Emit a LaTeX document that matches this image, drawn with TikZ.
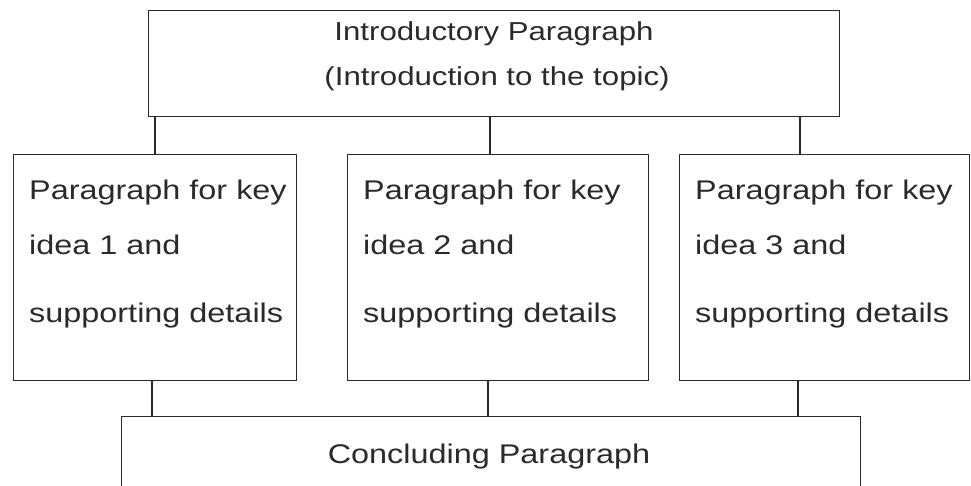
\documentclass[tikz,border=0pt]{standalone}
\usepackage{fontspec}
\setmainfont[FakeStretch=1.2]{Liberation Sans}
\definecolor{ink}{HTML}{2A2A2A}
\begin{document}
\begin{tikzpicture}[x=1pt,y=-1pt,
  box/.style={draw=ink, line width=1.1pt, inner sep=0pt, anchor=north west},
  link/.style={draw=ink, line width=1.1pt},
  txt/.style={inner sep=0pt, text=ink, font=\fontsize{27}{32}\selectfont},
  ttxt/.style={inner sep=0pt, text=ink, font=\fontsize{26}{30}\selectfont, anchor=base},
]
\useasboundingbox (0,0) rectangle (971,485);
\clip (0,0) rectangle (971,485);
% boxes
\node[box, minimum width=691pt, minimum height=106pt] (intro) at (148,10) {};
\node[box, minimum width=283pt, minimum height=226pt] (b1) at (13,154) {};
\node[box, minimum width=301pt, minimum height=226pt] (b2) at (347,154) {};
\node[box, minimum width=290pt, minimum height=226pt] (b3) at (679,154) {};
\node[box, minimum width=739pt, minimum height=100pt] (con) at (121,416) {};
% texts
\node[ttxt] (i1) at (494,40) {Introductory Paragraph};
\node[ttxt] (i2) at (497,85) {(Introduction to the topic)};
\foreach \n/\x/\k in {1/29/1, 2/363/2, 3/695/3}{
  \node[txt, anchor=base west] (p\n a) at (\x,199) {Paragraph for key};
  \node[txt, anchor=base west] (p\n b) at (\x,254) {idea \k\ and};
  \node[txt, anchor=base west] (p\n c) at (\x,322) {supporting details};
}
\node[ttxt, font=\fontsize{27}{32}\selectfont] (c1) at (489,463) {Concluding Paragraph};
% connectors
\coordinate (u1) at (155,0);
\coordinate (u2) at (490,0);
\coordinate (u3) at (800,0);
\coordinate (d1) at (152,0);
\coordinate (d2) at (488,0);
\coordinate (d3) at (798,0);
\draw[link] (u1 |- intro.south) -- (u1 |- b1.north);
\draw[link] (u2 |- intro.south) -- (u2 |- b2.north);
\draw[link] (u3 |- intro.south) -- (u3 |- b3.north);
\draw[link] (d1 |- b1.south) -- (d1 |- con.north);
\draw[link] (d2 |- b2.south) -- (d2 |- con.north);
\draw[link] (d3 |- b3.south) -- (d3 |- con.north);
\end{tikzpicture}
\end{document}
